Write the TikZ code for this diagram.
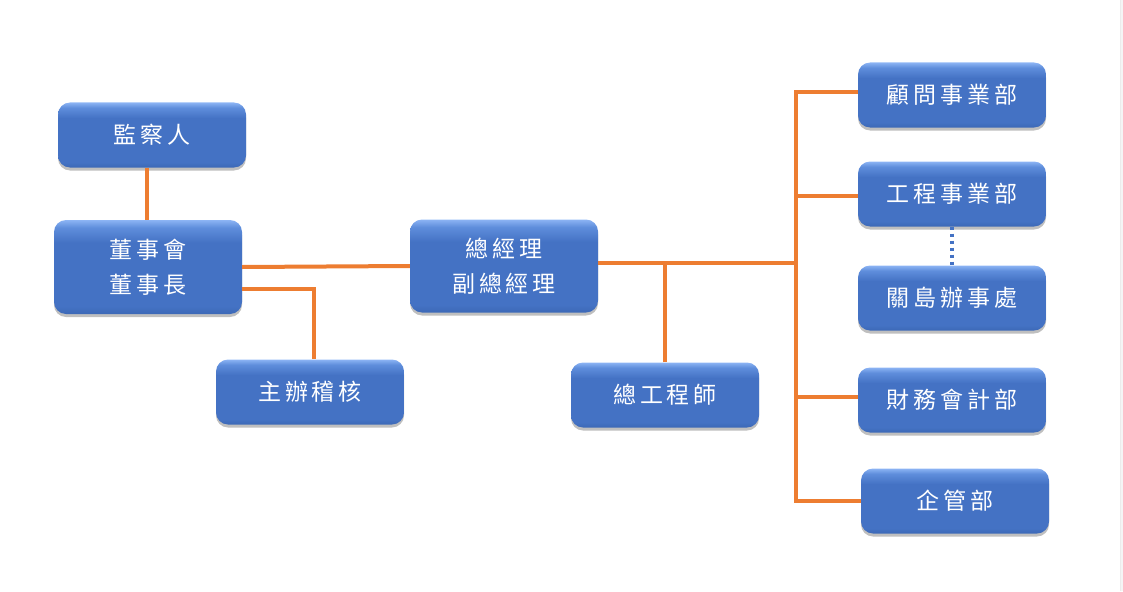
\documentclass[tikz,border=0pt]{standalone}
\usepackage{fontspec}
\newfontfamily\cjk[LetterSpace=17]{Noto Sans CJK TC}
\usetikzlibrary{shadows}
\definecolor{lnorange}{HTML}{ED7D31}
\definecolor{bxblue}{HTML}{4472C4}
\definecolor{bxtop}{HTML}{8CB4F4}
\definecolor{bxlight}{HTML}{5F8EDC}
\definecolor{bxdark}{HTML}{3C68B6}
\pgfdeclareverticalshading{boxbevel}{100bp}{color(0bp)=(bxdark); color(25bp)=(bxdark); color(29bp)=(bxblue); color(63bp)=(bxblue); color(71bp)=(bxlight); color(75bp)=(bxtop); color(100bp)=(bxtop)}
\tikzset{
  orgbox/.style={rounded corners=12pt, minimum width=188pt, minimum height=65pt,
    shading=boxbevel, text=white, align=center, inner sep=0pt,
    font=\cjk\fontsize{23}{35}\selectfont,
    drop shadow={shadow xshift=0pt, shadow yshift=-3pt, opacity=0.25, fill=black}},
  link/.style={draw=lnorange, line width=4pt},
  dotlink/.style={draw=bxblue, line width=3.5pt, dash pattern=on 3.5pt off 3.5pt},
}
\begin{document}
\begin{tikzpicture}[x=1pt, y=-1pt]
\useasboundingbox (0,0) rectangle (1123,591);
\fill[gray!8] (1120,0) rectangle (1123,591);
\draw[gray!15, line width=0.8pt] (1120,0) -- (1120,591);

\node[orgbox] (jc) at (152,135) {監察人};
\node[orgbox, minimum height=94pt] (bd) at (148,267) {董事會\\董事長};
\node[orgbox] (audit) at (310,392) {主辦稽核};
\node[orgbox, minimum height=93pt] (gm) at (504,266) {總經理\\副總經理};
\node[orgbox] (ce) at (665,395) {總工程師};
\node[orgbox] (r1) at (952,95) {顧問事業部};
\node[orgbox] (r2) at (952,194) {工程事業部};
\node[orgbox] (r3) at (952,298) {關島辦事處};
\node[orgbox] (r4) at (952,400) {財務會計部};
\node[orgbox] (r5) at (955,501) {企管部};

\coordinate (hub) at (796,263);

\draw[link] ([xshift=-5pt]jc.south) -- ([xshift=-1pt]bd.north);
\draw[link] (bd.east) -- (gm.west);
\draw[link] ([yshift=-22pt]bd.east) -| ([xshift=4pt]audit.north);
\draw[link] (gm.east |- hub) -- (hub);
\draw[link] (ce.north) -- (ce.north |- hub);
\draw[link] ([yshift=3pt]r1.west) -| (r5.west -| hub) -- (r5.west);
\draw[link] ([yshift=-2pt]r2.west) -- ([yshift=-2pt]r2.west -| hub);
\draw[link] ([yshift=3pt]r4.west) -- ([yshift=3pt]r4.west -| hub);
\draw[dotlink] (r2.south) -- (r3.north);
\end{tikzpicture}
\end{document}
